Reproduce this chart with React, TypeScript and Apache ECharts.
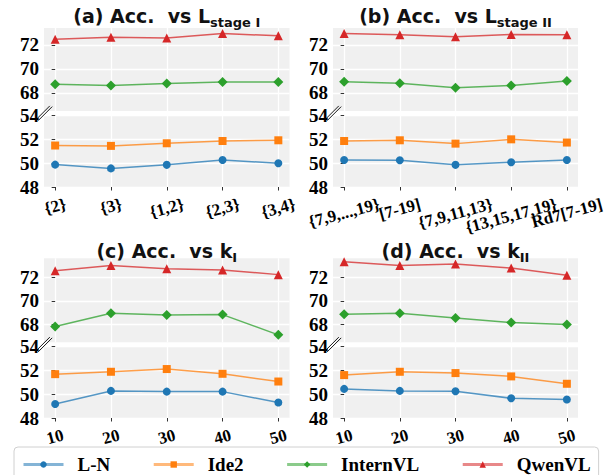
import React, { useEffect, useRef } from 'react';
import * as echarts from 'echarts';

// ---------- data ----------
const SERIES_NAMES = ['L-N', 'Ide2', 'InternVL', 'QwenVL'];
const SERIES_ON_TOP = [false, false, true, true];

const labelsA = ['{2}', '{3}', '{1,2}', '{2,3}', '{3,4}'];
const labelsB = ['{7,9,...,19}', '[7-19]', '{7,9,11,13}', '{13,15,17,19}', 'Rd7[7-19]'];
const labelsK = ['10', '20', '30', '40', '50'];

const aLN = [49.88, 49.56, 49.86, 50.27, 50.0];
const aIde2 = [51.48, 51.45, 51.67, 51.86, 51.92];
const aInternVL = [68.72, 68.61, 68.78, 68.92, 68.92];
const aQwenVL = [72.47, 72.64, 72.56, 72.94, 72.75];

const bLN = [50.27, 50.25, 49.86, 50.08, 50.27];
const bIde2 = [51.86, 51.92, 51.64, 52.0, 51.73];
const bInternVL = [68.94, 68.8, 68.44, 68.63, 69.0];
const bQwenVL = [72.94, 72.83, 72.67, 72.86, 72.83];

const cLN = [49.18, 50.28, 50.22, 50.22, 49.3];
const cIde2 = [51.69, 51.89, 52.12, 51.72, 51.07];
const cInternVL = [67.83, 68.95, 68.81, 68.84, 67.13];
const cQwenVL = [72.55, 73.0, 72.72, 72.61, 72.22];

const dLN = [50.45, 50.28, 50.25, 49.66, 49.55];
const dIde2 = [51.61, 51.89, 51.78, 51.5, 50.88];
const dInternVL = [68.87, 68.95, 68.56, 68.17, 68.0];
const dQwenVL = [73.31, 73.0, 73.12, 72.78, 72.17];

const Y_TOP_TICKS = [68, 70, 72];
const Y_TOP_MIN = 66.5;
const Y_BOT_MIN = 48;
const Y_BOT_MAX = 54;
const X_TICKS = [0, 1, 2, 3, 4];

// ---------- styles ----------
const SERIES_COLORS = ['#1f77b4', '#ff7f0e', '#2ca02c', '#d62728'];
const SERIES_SYMBOLS = ['circle', 'rect', 'diamond', 'triangle'];
const SERIES_SYMBOL_SIZES = [8, 8, 10, 9];
const BG = '#f0f0f0';
const SERIF = '"Liberation Serif", "Times New Roman", serif';
const SANS = '"DejaVu Sans", sans-serif';
const XFS = 17;
const YFS = 19;
const ROT = 15;
const PAD = 8;

const PANELS = [
  { tag: '(a)', sym: 'L', sub: 'stage I', labels: labelsA, data: [aLN, aIde2, aInternVL, aQwenVL],
    left: 44, width: 245.5, topY: 28, topH: 83, botY: 115.5, botH: 71.5, topMax: 73.4, titleTop: 6 },
  { tag: '(b)', sym: 'L', sub: 'stage II', labels: labelsB, data: [bLN, bIde2, bInternVL, bQwenVL],
    left: 333, width: 245, topY: 28, topH: 83, botY: 115.5, botH: 71.5, topMax: 73.4, titleTop: 6 },
  { tag: '(c)', sym: 'k', sub: 'I', labels: labelsK, data: [cLN, cIde2, cInternVL, cQwenVL],
    left: 44, width: 245.5, topY: 258.3, topH: 84, botY: 346.7, botH: 71.3, topMax: 73.6, titleTop: 241 },
  { tag: '(d)', sym: 'k', sub: 'II', labels: labelsK, data: [dLN, dIde2, dInternVL, dQwenVL],
    left: 333, width: 245, topY: 258.3, topH: 84, botY: 346.7, botH: 71.3, topMax: 73.6, titleTop: 241 },
];

function measure(text: string, font: string): number {
  const ctx = document.createElement('canvas').getContext('2d');
  if (!ctx) return text.length * 8;
  ctx.font = font;
  return ctx.measureText(text).width;
}

// distance from the axis to the centre of a rotated label, matplotlib-style (bbox top at a fixed pad)
function labelOffset(text: string): number {
  const th = (ROT * Math.PI) / 180;
  const w = measure(text, `bold ${XFS}px ${SERIF}`);
  const h = XFS * 1.05;
  return PAD + (w * Math.sin(th) + h * Math.cos(th)) / 2;
}

function buildOption() {
  const grid: any[] = [];
  const xAxis: any[] = [];
  const yAxis: any[] = [];
  const series: any[] = [];
  const title: any[] = [];
  const graphic: any[] = [];

  PANELS.forEach((p) => {
    const ti = grid.length;
    grid.push({ left: p.left, top: p.topY, width: p.width, height: p.topH, show: true, backgroundColor: BG, borderWidth: 0 });
    const bi = grid.length;
    grid.push({ left: p.left, top: p.botY, width: p.width, height: p.botH, show: true, backgroundColor: BG, borderWidth: 0 });

    const xBase = { type: 'value', min: -0.2, max: 4.2, position: 'bottom', offset: 0, axisLine: { show: false } };
    const txi = xAxis.length;
    xAxis.push({
      ...xBase, gridIndex: ti,
      axisTick: { show: false, customValues: X_TICKS },
      axisLabel: { show: false },
      splitLine: { show: true, lineStyle: { color: '#fff', width: 1.3 } },
    });
    const bxi = xAxis.length;
    xAxis.push({
      ...xBase, gridIndex: bi,
      axisTick: { show: true, length: 3.5, lineStyle: { color: '#333', width: 1 }, customValues: X_TICKS },
      axisLabel: { show: false },
      splitLine: { show: true, lineStyle: { color: '#fff', width: 1.3 } },
    });
    // one label-only axis per tick, so that each label gets its own distance from the axis
    p.labels.forEach((lab, i) => {
      xAxis.push({
        ...xBase, gridIndex: bi,
        axisTick: { show: false, customValues: [X_TICKS[i]] },
        splitLine: { show: false },
        axisLabel: {
          show: true, customValues: [X_TICKS[i]], rotate: ROT, margin: labelOffset(lab),
          showMinLabel: true, showMaxLabel: true, hideOverlap: false,
          align: 'center', verticalAlign: 'middle',
          fontFamily: SERIF, fontWeight: 'bold', fontSize: XFS, color: '#000',
          formatter: () => lab,
        },
      });
    });

    const yCommon = {
      type: 'value', position: 'left', axisLine: { show: false },
      axisTick: { show: true, length: 3.5, lineStyle: { color: '#333', width: 1 } },
      axisLabel: { fontFamily: SERIF, fontWeight: 'bold', fontSize: YFS, color: '#000', margin: 5, showMinLabel: true, showMaxLabel: true },
      splitLine: { show: true, lineStyle: { color: '#fff', width: 1.3 } },
    };
    const tyi = yAxis.length;
    yAxis.push({
      ...yCommon, gridIndex: ti, min: Y_TOP_MIN, max: p.topMax,
      axisTick: { ...yCommon.axisTick, customValues: Y_TOP_TICKS },
      axisLabel: { ...yCommon.axisLabel, customValues: Y_TOP_TICKS },
    });
    const byi = yAxis.length;
    yAxis.push({ ...yCommon, gridIndex: bi, min: Y_BOT_MIN, max: Y_BOT_MAX, interval: 2 });

    p.data.forEach((vals, si) => {
      const onTop = SERIES_ON_TOP[si];
      series.push({
        type: 'line', name: SERIES_NAMES[si],
        xAxisIndex: onTop ? txi : bxi, yAxisIndex: onTop ? tyi : byi,
        data: vals.map((v, j) => [X_TICKS[j], v]),
        symbol: SERIES_SYMBOLS[si], symbolSize: SERIES_SYMBOL_SIZES[si],
        itemStyle: { color: SERIES_COLORS[si], opacity: 1 },
        lineStyle: { color: SERIES_COLORS[si], width: 1.5, opacity: 0.75 },
        z: 2 + si, clip: false,
      });
    });

    title.push({
      text: `{m|${p.tag} Acc.  vs ${p.sym}}{s|${p.sub}}`,
      left: p.left + p.width / 2, top: p.titleTop, textAlign: 'center', padding: 0,
      textStyle: {
        rich: {
          m: { fontFamily: SANS, fontWeight: 'bold', fontSize: 19, color: '#111', verticalAlign: 'top' },
          s: { fontFamily: SANS, fontWeight: 'bold', fontSize: 13, color: '#111', verticalAlign: 'top', padding: [10, 0, 0, 0] },
        },
      },
    });

    const cx = p.left;
    const cy = (p.topY + p.topH + p.botY) / 2;
    [-1.2, 1.2].forEach((dx) => {
      graphic.push({
        type: 'line', z: 100,
        shape: { x1: cx - 7 + dx, y1: cy + 7 + dx * 0.3, x2: cx + 7 + dx, y2: cy - 7 + dx * 0.3 },
        style: { stroke: '#000', lineWidth: 0.9 },
      });
    });
  });

  return {
    animation: false,
    backgroundColor: '#fff',
    title,
    grid,
    xAxis,
    yAxis,
    series,
    graphic,
    legend: {
      data: SERIES_NAMES,
      left: 14, top: 447,
      orient: 'horizontal',
      itemWidth: 40, itemHeight: 8, itemGap: 42,
      padding: [8, 8, 30, 8],
      borderColor: '#d0d0d0', borderWidth: 1, borderRadius: 4, backgroundColor: '#fff',
      lineStyle: { width: 3, opacity: 0.55 },
      textStyle: { fontFamily: SERIF, fontWeight: 'bold', fontSize: 19, color: '#000', padding: [0, 0, 0, 9] },
    },
  };
}

export default function App() {
  const ref = useRef<HTMLDivElement>(null);
  useEffect(() => {
    document.body.style.margin = '0';
    const chart = echarts.init(ref.current!, null, { renderer: 'svg' });
    chart.setOption(buildOption() as any);
    return () => chart.dispose();
  }, []);
  return <div ref={ref} style={{ width: 613, height: 475, position: 'absolute', left: 0, top: 0 }} />;
}
